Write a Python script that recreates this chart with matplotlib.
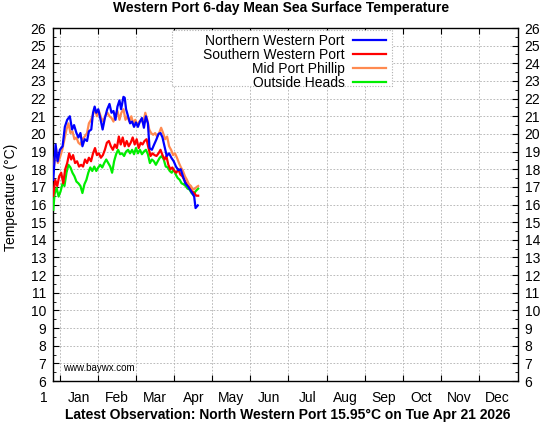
import matplotlib
matplotlib.use("Agg")
import matplotlib.pyplot as plt
import matplotlib.patches as patches
import numpy as np

# day of year (0 = Jan 1) and 6-day mean temperature (degC)
north_days = [-5.6, -3.7, -2.1, -0.3, 1.9, 3.7, 5.6, 7.7, 9.5, 11.1, 13, 14.6, 16.2, 17.8, 19.6,
              21.5, 23, 24.9, 26.3, 27.6, 28.9, 30.5, 32.4, 34, 35.8, 37.7, 39.5, 41.1, 42.7, 44.3,
              45.9, 47.5, 48.8, 50.7, 51.7, 52.8, 54.4, 56, 57.6, 59.2, 60.7, 62.3, 63.9, 65.5,
              67.1, 68.7, 70.3, 71.6, 73.5, 75.3, 77.2, 78.8, 80.4, 82, 83.6, 85.4, 87.3, 89.1,
              91, 92.8, 94.7, 96.6, 98.4, 100.3, 102.1, 104, 105.8, 107.4, 108.5, 110.3]
north_temp = [17.4, 19.4, 18.45, 19.1, 19.3, 20.4, 20.8, 21.0, 20.25, 20.5, 20.05, 19.8, 20.05,
              19.3, 19.7, 19.6, 20.15, 20.25, 21.2, 21.55, 21.2, 21.4, 20.8, 20.25, 20.9, 21.4,
              21.7, 21.2, 21.3, 20.8, 21.55, 21.9, 21.4, 22.1, 22.05, 21.4, 21.0, 20.6, 20.7,
              20.4, 20.65, 20.4, 20.7, 20.9, 20.35, 21.0, 20.6, 19.2, 19.1, 19.4, 19.7, 20.0,
              20.05, 19.8, 19.3, 18.75, 18.9, 18.65, 18.45, 18.15, 17.95, 18.0, 17.6, 17.2,
              17.05, 16.85, 16.65, 16.45, 15.8, 15.95]

south_days = [-5.6, -4, -2.4, -0.8, 0.8, 2.4, 4, 5.6, 7.2, 8.8, 10.3, 11.9, 13.5, 15.1, 16.7,
              18.3, 19.9, 21.5, 23, 24.7, 26.3, 27.9, 29.4, 31, 32.6, 34.2, 35.8, 37.4, 39,
              40.6, 42.2, 43.8, 45.4, 47, 48.5, 50.1, 51.7, 53.3, 54.9, 56.5, 58.1, 59.7, 61.3,
              62.9, 64.5, 66, 67.6, 69.2, 70.8, 72.4, 74, 75.6, 77.2, 78.8, 80.4, 82, 83.6,
              85.1, 86.7, 88.3, 89.9, 91.5, 93.1, 94.7, 96.3, 97.9, 99.5, 101.1, 102.7, 104.2,
              105.8, 107.4, 109, 110.6]
south_temp = [16.5, 17.4, 17.05, 17.6, 17.8, 17.2, 18.0, 18.35, 18.9, 18.55, 18.8, 18.35, 18.45,
              18.15, 18.25, 18.15, 18.55, 18.35, 18.65, 18.45, 18.9, 19.2, 18.8, 18.9, 18.65,
              18.8, 19.1, 19.5, 19.6, 19.3, 19.1, 19.4, 19.2, 19.85, 19.4, 19.8, 19.3, 19.6,
              19.3, 19.5, 19.8, 19.4, 19.7, 19.2, 19.5, 19.4, 19.6, 19.7, 19.2, 18.75, 18.9,
              18.8, 18.75, 18.9, 19.1, 18.8, 18.55, 18.75, 18.25, 18.0, 18.1, 17.9, 17.8, 18.0,
              17.7, 17.6, 17.4, 17.2, 17.05, 16.9, 16.75, 16.65, 16.5, 16.5]

mid_days = [-5, -3.4, -1.9, -0.3, 1.6, 3.4, 5, 6.6, 8.2, 9.8, 11.4, 13, 14.6, 16.2, 17.8, 19.6,
            21.5, 23, 24.7, 26.3, 27.9, 29.4, 31, 32.9, 34.5, 36.1, 37.9, 39.5, 41.1, 42.7,
            44.3, 45.9, 47.5, 49, 50.7, 52.3, 53.8, 55.4, 57, 58.6, 60.2, 61.8, 63.4, 65, 66.6,
            68.2, 69.8, 71.4, 72.9, 74.5, 76.1, 77.7, 79.3, 80.9, 82.5, 84.1, 85.7, 87.3,
            88.9, 90.5, 92, 93.6, 95.2, 96.8, 98.4, 100, 101.6, 103.2, 104.8, 106.4, 108,
            109.5, 110.6]
mid_temp = [18.2, 19.2, 18.35, 18.65, 19.1, 19.7, 20.25, 20.6, 20.05, 20.15, 19.7, 19.8, 19.5,
            19.4, 19.7, 19.85, 20.05, 20.6, 20.8, 21.1, 21.4, 21.0, 21.3, 20.9, 20.7, 21.0,
            21.2, 21.0, 20.9, 20.7, 21.1, 21.3, 20.8, 21.2, 21.4, 20.8, 21.0, 20.7, 21.0, 20.6,
            20.8, 20.5, 20.7, 20.8, 20.6, 21.2, 20.8, 20.25, 20.05, 19.95, 20.05, 19.85, 20.05,
            20.35, 20.05, 19.7, 19.85, 19.3, 19.1, 18.8, 18.9, 18.65, 18.35, 18.1, 17.9, 17.6,
            17.4, 17.15, 17.05, 16.85, 16.9, 17.0, 17.05]

outside_days = [-5.6, -4.5, -2.9, -1.3, 0.3, 1.9, 3.4, 5, 6.6, 8.2, 9.8, 11.4, 13, 14.6, 16.2,
                17.8, 19.4, 21, 22.5, 24.1, 25.7, 27.3, 28.9, 30.5, 32.1, 33.7, 35.3, 36.9,
                38.5, 40.1, 41.6, 43.2, 44.8, 46.4, 48, 49.6, 51.2, 52.8, 54.4, 56, 57.6, 59.2,
                60.7, 62.3, 63.9, 65.5, 67.1, 68.7, 70.3, 71.9, 73.5, 75.1, 76.7, 78.2, 79.8,
                81.4, 83, 84.6, 86.2, 87.8, 89.4, 91, 92.6, 94.2, 95.8, 97.3, 98.9, 100.5,
                102.1, 103.7, 105.3, 106.9, 108.5, 110.6]
outside_temp = [15.7, 16.6, 16.95, 16.45, 16.75, 17.2, 17.05, 17.8, 18.25, 18.1, 17.8, 17.6,
                17.3, 17.2, 17.05, 16.65, 17.15, 17.4, 17.8, 18.1, 17.9, 18.15, 17.9, 18.1,
                18.25, 18.1, 18.35, 18.55, 18.35, 18.15, 17.8, 18.45, 18.85, 19.1, 18.85, 18.9,
                18.75, 19.0, 19.1, 18.9, 19.1, 18.85, 19.2, 18.9, 19.1, 18.85, 19.0, 19.1,
                18.85, 18.35, 18.55, 18.45, 18.25, 18.45, 18.65, 18.75, 18.55, 18.15, 18.1,
                17.9, 17.8, 18.0, 17.7, 17.5, 17.4, 17.2, 17.15, 17.05, 16.9, 16.85, 16.65,
                16.55, 16.75, 16.9]

months = ["Jan", "Feb", "Mar", "Apr", "May", "Jun", "Jul", "Aug", "Sep", "Oct", "Nov", "Dec"]
series_names = ["Northern Western Port", "Southern Western Port", "Mid Port Phillip", "Outside Heads"]
series_colors = ["#0000ff", "#ff0000", "#ff8a50", "#00ee00"]

plt.rcParams["font.family"] = ["Liberation Sans", "DejaVu Sans"]
plt.rcParams["font.size"] = 10

fig = plt.figure(figsize=(5.48, 4.24), dpi=100)
ax = fig.add_axes([0.0967, 0.1014, 0.848, 0.8325])

month_len = 30.5
ax.set_xlim(-5.8, 12 * month_len + 0.8)
ax.set_ylim(6, 26)

grid_kw = dict(color="#b0b0b0", linestyle=(0, (2, 2)), linewidth=0.6)
for k in range(12):
    ax.axvline(k * month_len, zorder=1, **grid_kw)
for t in range(7, 26):
    ax.axhline(t, zorder=1, **grid_kw)

all_days = [north_days, south_days, mid_days, outside_days]
all_temp = [north_temp, south_temp, mid_temp, outside_temp]
draw_z = [3.4, 3.2, 3.3, 3.1]  # northern on top
handles = []
for i in range(4):
    ln, = ax.plot(all_days[i], all_temp[i], color=series_colors[i], lw=1.6,
                  label=series_names[i], zorder=draw_z[i])
    handles.append(ln)

# x axis: ticks at month boundaries, labels at mid-month
ax.set_xticks([k * month_len for k in range(12)])
ax.set_xticklabels([])
ax.set_xticks([(k + 0.5) * month_len for k in range(12)], minor=True)
ax.set_xticklabels(months, minor=True)
ax.tick_params(axis="x", which="minor", length=0, pad=7, labelsize=10)
ax.tick_params(axis="x", which="major", direction="in", length=4, top=True, width=0.8)
ax.text(-0.019, -0.027, "1", transform=ax.transAxes, ha="center", va="top", fontsize=10)

ax.set_yticks(range(6, 27))
ax.set_yticks(np.arange(6.5, 26, 1.0), minor=True)
ax.tick_params(axis="y", which="major", direction="in", length=4, right=True,
               labelright=True, labelsize=10, pad=5, width=0.8)
ax.tick_params(axis="y", which="minor", direction="in", length=2, right=True, width=0.6)
for s in ax.spines.values():
    s.set_linewidth(1.0)

ax.set_ylabel("Temperature (\u00b0C)", fontsize=10)
ax.yaxis.set_label_coords(-0.076, 0.52)

# legend box
box = patches.Rectangle((0.256, 0.835), 0.473, 0.16, transform=ax.transAxes,
                        facecolor="white", edgecolor="#b0b0b0", linestyle=(0, (1, 1.5)),
                        linewidth=0.8, zorder=4)
ax.add_patch(box)
leg = ax.legend(handles, series_names, loc="upper right",
                bbox_to_anchor=(0.74, 1.012), frameon=False, markerfirst=False,
                labelspacing=0.0, handlelength=2.4, handletextpad=0.6, borderpad=0.25,
                fontsize=10)
leg.set_zorder(5)

ax.text(0.0215, 0.022, "www.baywx.com", transform=ax.transAxes, fontsize=7, ha="left",
        va="bottom")

fig.text(0.513, 0.982, "Western Port 6-day Mean Sea Surface Temperature", ha="center",
         va="center", fontsize=10, fontweight="bold")
fig.text(0.525, 0.022, "Latest Observation: North Western Port 15.95\u00b0C on Tue Apr 21 2026",
         ha="center", va="center", fontsize=10, fontweight="bold")

fig.savefig("out.png", dpi=100)
